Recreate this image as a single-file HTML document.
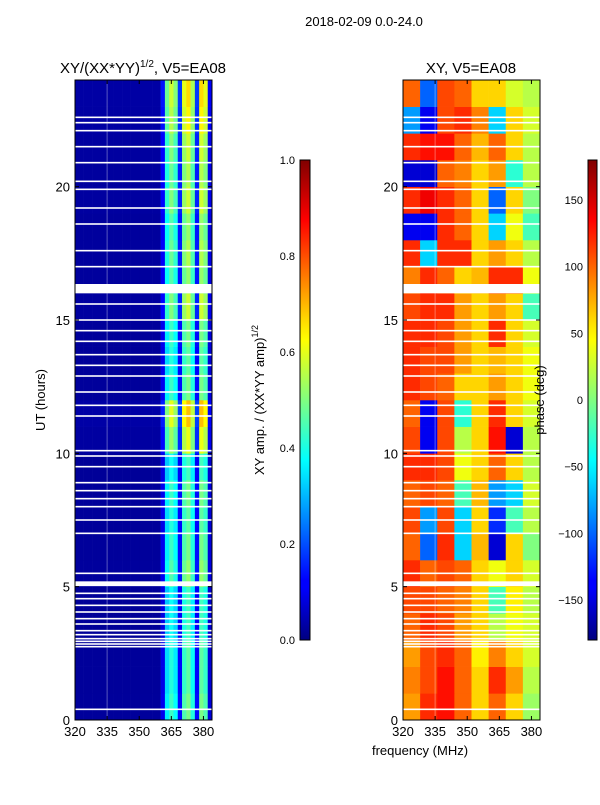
<!DOCTYPE html>
<html><head><meta charset="utf-8">
<style>
body{margin:0;background:#fff;}
svg text{font-family:"Liberation Sans",sans-serif;fill:#000;}
</style></head>
<body>
<svg id="fig" width="600" height="800" xmlns="http://www.w3.org/2000/svg">
<defs>
<linearGradient id="jetgrad" x1="0" y1="1" x2="0" y2="0">
<stop offset="0" stop-color="#000080"/><stop offset="0.11" stop-color="#0000ff"/>
<stop offset="0.125" stop-color="#0000ff"/><stop offset="0.34" stop-color="#00e0ff"/>
<stop offset="0.375" stop-color="#00ffff"/><stop offset="0.5" stop-color="#80ff80"/>
<stop offset="0.625" stop-color="#ffff00"/><stop offset="0.66" stop-color="#ffe000"/>
<stop offset="0.875" stop-color="#ff0000"/><stop offset="1" stop-color="#800000"/>
</linearGradient>
</defs>
<text x="364" y="26" font-size="13" text-anchor="middle">2018-02-09 0.0-24.0</text>
<text x="143" y="73" font-size="15" text-anchor="middle">XY/(XX*YY)<tspan font-size="10" dy="-6">1/2</tspan><tspan dy="6">, V5=EA08</tspan></text>
<text x="471" y="73" font-size="15" text-anchor="middle">XY, V5=EA08</text>
<g id="leftPanel"></g>
<g id="rightPanel"></g>
<g id="axes"></g>
<text transform="translate(45,400) rotate(-90)" font-size="13" text-anchor="middle">UT (hours)</text>
<text x="420" y="755" font-size="13" text-anchor="middle">frequency (MHz)</text>
<rect x="300" y="160" width="10" height="480" fill="url(#jetgrad)" stroke="#000" stroke-width="1"/>
<rect x="588" y="160" width="9" height="480" fill="url(#jetgrad)" stroke="#000" stroke-width="1"/>
<text transform="translate(264,400) rotate(-90)" font-size="13" text-anchor="middle">XY amp. / (XX*YY amp)<tspan font-size="9" dy="-6">1/2</tspan></text>
<text transform="translate(544,400) rotate(-90)" font-size="13" text-anchor="middle">phase (deg)</text>
</svg>
<script>
const ampFreqProfile=[0.03,0.03,0.03,0.03,0.03,0.03,0.03,0.03,0.03,0.03,0.03,0.03,0.03,0.03,0.03,0.03,0.03,0.03,0.03,0.03,0.12,0.4,0.48,0.42,0.15,0.5,0.55,0.45,0.15,0.55,0.5,0.1];
const ampHourScale=[0.9,0.85,0.85,0.8,0.8,0.95,0.9,0.85,0.9,0.8,1.1,1.25,0.9,0.85,0.9,1.05,0.95,1.0,0.95,1.05,1.0,1.05,1.15,1.2];
const phaseGrid=[
[80,120,130,100,60,100,60,10],[90,110,130,100,60,120,80,20],[80,110,120,100,50,90,60,30],
[100,120,110,80,60,20,40,30],[110,110,100,90,60,-20,50,20],[120,100,110,100,60,40,60,30],
[100,-100,120,-60,70,-150,60,0],[110,-80,110,-60,60,-120,-20,20],[100,110,100,-20,70,-80,-60,30],
[120,120,110,40,60,100,60,20],[110,-140,110,20,60,130,-150,20],[100,-140,110,-30,60,120,60,30],
[120,110,100,60,60,80,60,40],[120,110,110,80,60,70,60,40],[120,120,110,80,60,120,60,30],
[110,120,120,80,60,80,60,-20],[90,120,100,60,70,120,120,40],[120,-60,120,120,60,80,60,20],
[-140,-140,120,100,60,-60,40,-20],[120,140,120,100,60,-100,60,0],[-150,-150,100,90,60,80,-30,20],
[120,130,130,100,70,100,60,20],[-80,-140,110,120,90,-60,60,30],[100,-100,110,100,60,60,30,20]];
const gapLines=[0.4,2.75,2.85,2.95,3.05,3.2,3.35,3.6,3.8,4.05,4.3,4.55,4.75,5.5,7.0,7.5,8.0,8.3,8.6,8.9,9.5,9.9,10.1,11.4,11.8,12.3,12.9,13.3,13.7,14.2,14.6,15.0,15.6,17.0,17.6,18.6,19.2,19.9,20.2,20.9,21.5,22.1,22.4,22.6];
const gapBlocks=[[5.02,5.2],[16.0,16.35]];
const yTicks=[0,5,10,15,20];
const xTicks=[320,335,350,365,380];
const ampTicks=[0.0,0.2,0.4,0.6,0.8,1.0];
const phaseTicks=[-150,-100,-50,0,50,100,150];

const NS="http://www.w3.org/2000/svg";
const Y0=720,Y1=80,H=24,FMIN=320,FMAX=384;
function yS(h){return Y0-(h/H)*(Y0-Y1);}
function xS(f,x0){return x0+(f-FMIN)/(FMAX-FMIN)*137;}
function jet(v){v=Math.max(0,Math.min(1,v));
 const c=t=>Math.round(255*Math.max(0,Math.min(1,t)));
 return `rgb(${c(1.5-Math.abs(4*v-3))},${c(1.5-Math.abs(4*v-2))},${c(1.5-Math.abs(4*v-1))})`;}
function mk(tag,attrs,parent){const e=document.createElementNS(NS,tag);for(const k in attrs)e.setAttribute(k,attrs[k]);parent.appendChild(e);return e;}

const L=document.getElementById('leftPanel'),R=document.getElementById('rightPanel'),A=document.getElementById('axes');
const fStepA=(FMAX-FMIN)/ampFreqProfile.length;
for(let h=0;h<ampHourScale.length;h++){for(let j=0;j<ampFreqProfile.length;j++){
 const v=ampFreqProfile[j]*ampHourScale[h];
 const x=xS(FMIN+j*fStepA,75),x2=xS(FMIN+(j+1)*fStepA,75);
 const r=mk('rect',{x:x,y:yS(h+1),width:x2-x+0.3,height:yS(h)-yS(h+1)+0.3,fill:jet(v)},L);
 
 
}}
const fStepP=(FMAX-FMIN)/8;
for(let h=0;h<phaseGrid.length;h++){for(let j=0;j<8;j++){
 const v=(phaseGrid[h][j]+180)/360;
 const x=xS(FMIN+j*fStepP,403),x2=xS(FMIN+(j+1)*fStepP,403);
 const r=mk('rect',{x:x,y:yS(h+1),width:x2-x+0.3,height:yS(h)-yS(h+1)+0.3,fill:jet(v)},R);
 
 
}}
[[75,L],[403,R]].forEach(([x0,g])=>{
 gapLines.forEach(t=>{const r=mk('rect',{x:x0,y:yS(t)-0.8,width:137,height:1.6,fill:'#fff'},g);
  
  });
 gapBlocks.forEach(b=>{const r=mk('rect',{x:x0,y:yS(b[1]),width:137,height:yS(b[0])-yS(b[1]),fill:'#fff'},g);
  
  });
 const vl=mk('rect',{x:xS(335,x0)-0.5,y:80,width:1,height:640,fill:'rgba(255,255,255,0.35)'},g);
 
 
});
[75,403].forEach((x0,pi)=>{
 const f=mk('rect',{x:x0,y:80,width:137,height:640,fill:'none',stroke:'#000','stroke-width':1},A);
 
 
 yTicks.forEach(t=>{const y=yS(t);
  mk('line',{x1:x0,x2:x0+4,y1:y,y2:y,stroke:'#000'},A);
  mk('line',{x1:x0+137,x2:x0+133,y1:y,y2:y,stroke:'#000'},A);
  const tx=mk('text',{x:x0-5,y:y+5,'font-size':13,'text-anchor':'end'},A);tx.textContent=t;
  
  });
 xTicks.forEach(t=>{const x=xS(t,x0);
  mk('line',{x1:x,x2:x,y1:720,y2:716,stroke:'#000'},A);
  mk('line',{x1:x,x2:x,y1:80,y2:84,stroke:'#000'},A);
  const tx=mk('text',{x:x,y:736,'font-size':13,'text-anchor':'middle'},A);tx.textContent=t;
  
  });
});
ampTicks.forEach(t=>{const y=640-t*480;
 mk('line',{x1:300,x2:304,y1:y,y2:y,stroke:'#000'},A);mk('line',{x1:310,x2:306,y1:y,y2:y,stroke:'#000'},A);
 const tx=mk('text',{x:295,y:y+4,'font-size':11,'text-anchor':'end'},A);tx.textContent=t.toFixed(1);
 
 });
phaseTicks.forEach(t=>{const y=400-t*480/360;
 mk('line',{x1:588,x2:592,y1:y,y2:y,stroke:'#000'},A);mk('line',{x1:597,x2:593,y1:y,y2:y,stroke:'#000'},A);
 const tx=mk('text',{x:583,y:y+4,'font-size':11,'text-anchor':'end'},A);tx.textContent=t<0?'\u2212'+(-t):t;
 
 });
</script>
</body></html>
